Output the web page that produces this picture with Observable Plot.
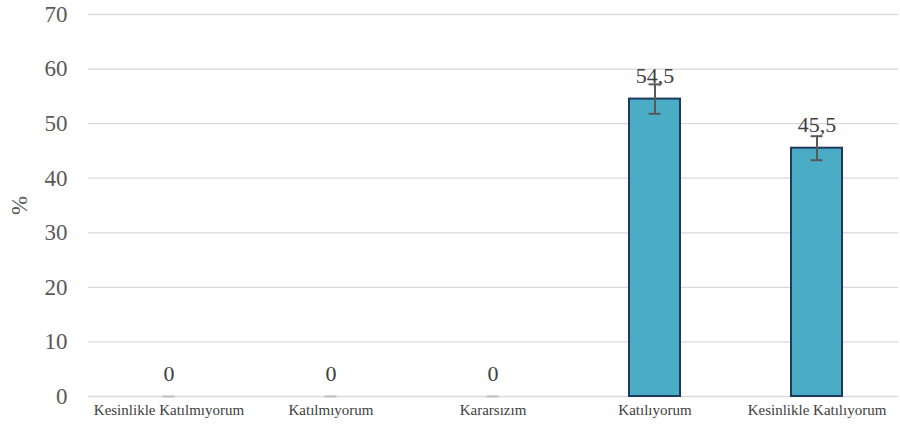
<!DOCTYPE html>
<html>
<head>
<meta charset="utf-8">
<script src="https://cdn.jsdelivr.net/npm/d3@7"></script>
<script src="https://cdn.jsdelivr.net/npm/@observablehq/plot@0.6"></script>
<style>
  html, body { margin: 0; padding: 0; background: #fff; }
  #chart svg text, #chart svg tspan {
    font-family: "Liberation Serif", serif !important;
  }
</style>
</head>
<body>
<div id="chart"></div>
<script>
const categories = ["Kesinlikle Katılmıyorum", "Katılmıyorum", "Kararsızım", "Katılıyorum", "Kesinlikle Katılıyorum"];
const values = [0, 0, 0, 54.5, 45.5];
const errors = [0, 0, 0, 2.7, 2.2];
const valueLabels = ["0", "0", "0", "54,5", "45,5"];
const yTicks = [0, 10, 20, 30, 40, 50, 60, 70];

const data = categories.map((c, i) => ({
  cat: c, v: values[i], e: errors[i], lab: valueLabels[i]
}));

const serif = "Liberation Serif";

const chart = Plot.plot({
  width: 900,
  height: 428,
  marginLeft: 88,
  marginRight: 2,
  marginTop: 14,
  marginBottom: 32,
  style: { background: "#fff", fontFamily: serif },
  x: { domain: categories, paddingInner: 0.685, paddingOuter: 0.3425, label: null },
  y: { domain: [0, 70], label: null },
  marks: [
    Plot.gridY(yTicks, { stroke: "#d9d9d9", strokeOpacity: 1, strokeWidth: 1.3 }),
    Plot.barY(data, { x: "cat", y: "v", fill: "#4BACC6", stroke: "#1F3A5F", strokeWidth: 2 }),
    Plot.ruleX(data.filter(d => d.e > 0), { x: "cat", y1: d => d.v - d.e, y2: d => d.v + d.e, stroke: "#595959", strokeWidth: 2 }),
    Plot.tickY(data, { x: "cat", y: d => d.v + d.e, stroke: d => d.e > 0 ? "#595959" : "#bfbfbf", strokeWidth: 2, insetLeft: 19.5, insetRight: 19.5 }),
    Plot.tickY(data.filter(d => d.e > 0), { x: "cat", y: d => d.v - d.e, stroke: "#595959", strokeWidth: 2, insetLeft: 19.5, insetRight: 19.5 }),
    Plot.text(data, { x: "cat", y: "v", text: "lab", dy: -16, lineAnchor: "bottom", fill: "#404040", fontSize: 22, fontFamily: serif }),
    Plot.axisY({ ticks: yTicks, tickSize: 0, tickPadding: 21, fontSize: 23, fontFamily: serif, color: "#595959", label: "%", labelAnchor: "center", labelArrow: "none", labelOffset: 78 }),
    Plot.axisX({ tickSize: 0, tickPadding: 8, fontSize: 15, fontFamily: serif, color: "#404040" })
  ]
});
document.getElementById("chart").appendChild(chart);
</script>
</body>
</html>
